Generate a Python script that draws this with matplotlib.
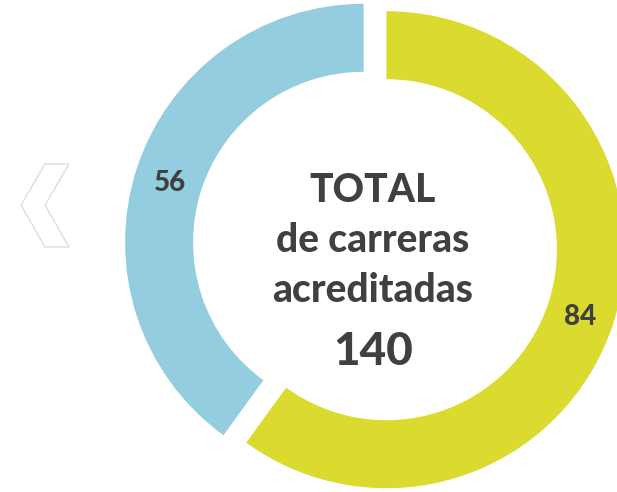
import matplotlib
matplotlib.use("Agg")
import matplotlib.pyplot as plt
from matplotlib.patches import Polygon

values = [84, 56]
labels = ["84", "56"]
colors = ["#DBDA2F", "#94CDDF"]
center_lines = ["TOTAL", "de carreras", "acreditadas"]
total_label = "140"

W, H = 617, 492
fig = plt.figure(figsize=(W / 100, H / 100), dpi=100)
ax = fig.add_axes([0, 0, 1, 1])

cx, cy, R = 375, 246, 238.5
total = sum(values)
wedges, texts, autotexts = ax.pie(
    values, colors=colors, startangle=90, counterclock=False,
    explode=[12, 12], radius=R, center=(cx, cy),
    wedgeprops=dict(width=68, edgecolor="none"),
    autopct=lambda p: f"{p * total / 100:.0f}", pctdistance=0.855,
)
for t in autotexts:
    t.set_family("Lato")
    t.set_fontsize(20)
    t.set_fontweight(900)
    t.set_color("#404040")
    x, y = t.get_position()
    t.set_position((x, y - 4))
ax.set_xlim(0, W)
ax.set_ylim(0, H)
ax.set_aspect("equal", adjustable="box")
ax.axis("off")

txt = dict(ha="center", va="baseline", color="#404040", fontweight=900, family="Lato")
ax.text(373, 290, center_lines[0], fontsize=28, **txt)
ax.text(373, 240, center_lines[1], fontsize=28, **txt)
ax.text(373, 190, center_lines[2], fontsize=28, **txt)
ax.text(373, 127, total_label, fontsize=33, **txt)

# decorative chevron
chev = [(45, 164), (69, 164), (45, 205), (69, 247), (45, 247), (21, 205)]
ax.add_patch(Polygon([(x, H - y) for x, y in chev], closed=True, fill=False,
                     edgecolor="#DDDDDD", linewidth=1))

fig.savefig("out.png", dpi=100)
